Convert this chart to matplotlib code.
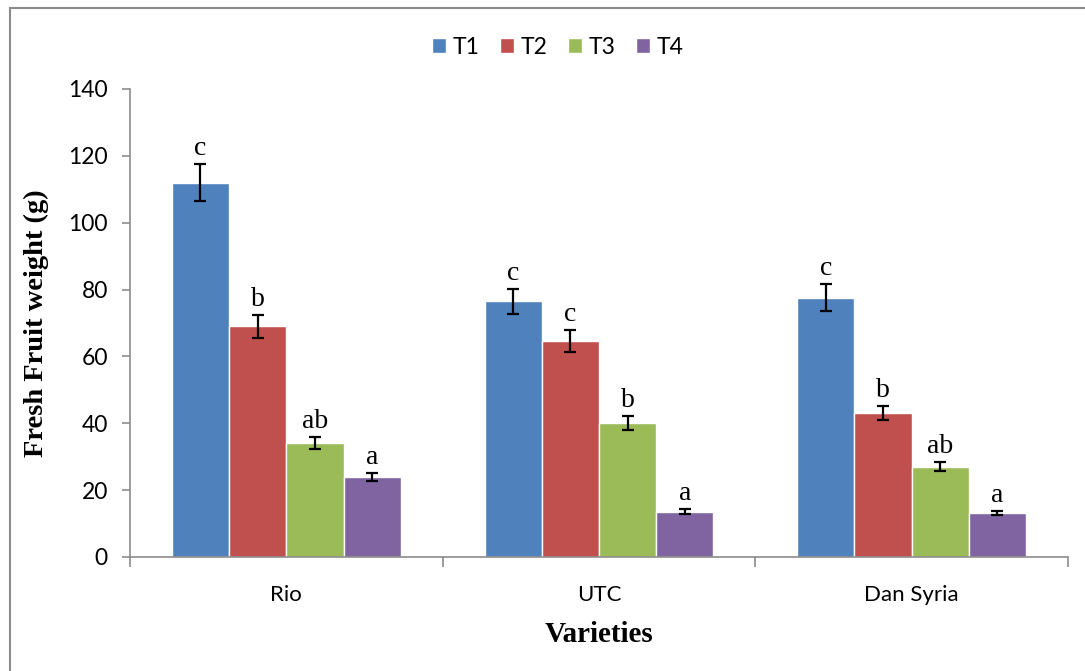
import numpy as np
import matplotlib
matplotlib.use("Agg")
import matplotlib.pyplot as plt
from matplotlib.patches import Rectangle

# data
varieties = ['Rio', 'UTC', 'Dan Syria']
treatments = ['T1', 'T2', 'T3', 'T4']
t1 = [112.0, 76.5, 77.6]
t2 = [69.0, 64.6, 43.1]
t3 = [34.1, 40.2, 27.0]
t4 = [24.0, 13.6, 13.2]
t1_err = [5.5, 3.8, 4.0]
t2_err = [3.5, 3.2, 2.2]
t3_err = [1.7, 2.1, 1.3]
t4_err = [1.2, 0.7, 0.7]
t1_letters = ['c', 'c', 'c']
t2_letters = ['b', 'c', 'b']
t3_letters = ['ab', 'b', 'ab']
t4_letters = ['a', 'a', 'a']

colors = ['#4F81BD', '#C0504D', '#9BBB59', '#8064A2']
tick_font = 'Lato'
serif_font = 'Liberation Serif'

fig = plt.figure(figsize=(10.85, 6.71), dpi=100)
ax = fig.add_axes([0.1198, 0.1699, 0.8645, 0.6975])

# outer chart frame (left and top edges visible)
fig.patches.append(Rectangle((10 / 1085, -0.05), 1.2, 1 - 8 / 671 + 0.05,
                             transform=fig.transFigure, fill=False,
                             edgecolor='#8c8c8c', linewidth=1.5))

series = [t1, t2, t3, t4]
errors = [t1_err, t2_err, t3_err, t4_err]
letters = [t1_letters, t2_letters, t3_letters, t4_letters]

x = np.arange(len(varieties))
width = 0.183
handles = []
for i, (vals, errs, labs) in enumerate(zip(series, errors, letters)):
    pos = x + (i - 1.5) * width
    h = ax.bar(pos, vals, width, color=colors[i], edgecolor='white', linewidth=1,
               label=treatments[i], zorder=2)
    handles.append(h)
    ax.errorbar(pos, vals, yerr=errs, fmt='none', ecolor='black',
                elinewidth=1.6, capsize=4.5, capthick=1.6, zorder=3)
    for p, v, e, lab in zip(pos, vals, errs, labs):
        ax.text(p, v + e + 2.7, lab, ha='center', va='baseline',
                fontsize=20, family=serif_font)

ax.set_xlim(-0.5, 2.5)
ax.set_ylim(0, 140)
ax.set_yticks(np.arange(0, 141, 20))
ax.set_xticks(x)
ax.set_xticklabels(varieties, fontsize=16, family=tick_font)
ax.set_xticks([-0.5, 0.5, 1.5, 2.5], minor=True)
ax.tick_params(axis='x', which='major', length=0, pad=20)
ax.tick_params(axis='x', which='minor', length=7, color='#8c8c8c', width=1.2)
ax.tick_params(axis='y', length=6, color='#8c8c8c', width=1.2, labelsize=16.5,
               pad=10)
for lab in ax.get_yticklabels():
    lab.set_family(tick_font)

for side in ['top', 'right']:
    ax.spines[side].set_visible(False)
for side in ['left', 'bottom']:
    ax.spines[side].set_color('#8c8c8c')
    ax.spines[side].set_linewidth(1.2)

ax.set_ylabel('Fresh Fruit weight (g)', fontsize=20.5, fontweight='bold',
              family=serif_font, labelpad=14)
ax.set_xlabel('Varieties', fontsize=21, fontweight='bold',
              family=serif_font, labelpad=12)

fig.legend(handles=handles, loc='center', bbox_to_anchor=(558 / 1085, 1 - 47 / 671),
           ncol=4, frameon=False, handlelength=0.6, handleheight=0.6,
           handletextpad=0.3, columnspacing=0.9,
           prop={'family': tick_font, 'size': 16.5})

fig.savefig('out.png', dpi=100)
